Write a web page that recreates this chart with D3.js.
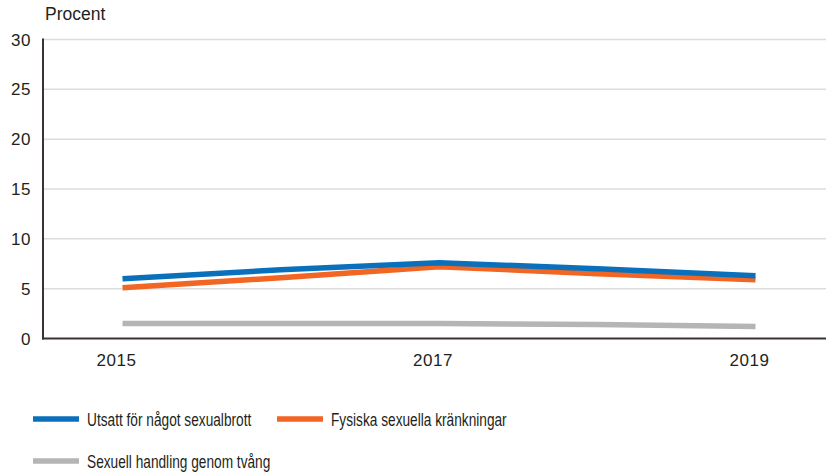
<!doctype html>
<html lang="sv">
  <head>
    <meta charset="utf-8">
    <title>Sexualbrott</title>
    <style>
        body { margin: 0; background: #fff; }
        text { font-family: "Liberation Sans", Arial, sans-serif; fill: #231f20; }
        .grid line { stroke: #dcdcdc; stroke-width: 1.5px; }
        .axis { stroke: #3a3330; stroke-width: 2px; }
        .serie { fill: none; stroke-width: 5.5px; stroke-linejoin: miter; }
        .legend text { font-size: 18.5px; }
    </style>
  </head>
  <body>
    <svg width="826" height="473"></svg>

    <script src="https://d3js.org/d3.v7.min.js"></script>
    <script>
        var years = [2015, 2016, 2017, 2018, 2019];
        var yearLabels = [2015, 2017, 2019];
        var yTicks = [0, 5, 10, 15, 20, 25, 30];

        var sexualbrott = [6.0, 6.9, 7.6, 7.0, 6.3];
        var krankningar = [5.1, 6.1, 7.2, 6.5, 5.9];
        var tvang = [1.5, 1.5, 1.5, 1.4, 1.2];

        var series = [
            {name: "Utsatt för något sexualbrott", values: sexualbrott, color: "#0a70bb"},
            {name: "Fysiska sexuella kränkningar", values: krankningar, color: "#f26522"},
            {name: "Sexuell handling genom tvång", values: tvang, color: "#b5b5b5"}
        ];

        var svg = d3.select("svg");
        var plotLeft = 43, plotRight = 826, plotTop = 39.5, plotBottom = 338.5;

        var x = d3.scaleLinear().domain([2015, 2019]).range([122.5, 755.5]);
        var y = d3.scaleLinear().domain([0, 30]).range([plotBottom, plotTop]);

        // gridlines
        svg.append("g").attr("class", "grid")
            .selectAll("line")
            .data(yTicks.filter(d => d > 0))
            .enter().append("line")
            .attr("x1", plotLeft).attr("x2", plotRight)
            .attr("y1", d => y(d)).attr("y2", d => y(d));

        // y tick labels
        svg.append("g")
            .selectAll("text")
            .data(yTicks)
            .enter().append("text")
            .attr("x", 31)
            .attr("y", d => y(d) + 6)
            .attr("text-anchor", "end")
            .style("font-size", "17px")
            .style("letter-spacing", "0.5px")
            .text(d => d);

        svg.append("text")
            .attr("x", 45).attr("y", 20)
            .style("font-size", "17.5px")
            .text("Procent");

        // x labels
        svg.append("g")
            .selectAll("text")
            .data(yearLabels)
            .enter().append("text")
            .attr("x", d => x(d) - 6)
            .attr("y", 366)
            .attr("text-anchor", "middle")
            .style("font-size", "17px")
            .style("letter-spacing", "0.5px")
            .text(d => d);

        var line = d3.line()
            .x((d, i) => x(years[i]))
            .y(d => y(d));

        svg.append("g")
            .selectAll("path")
            .data(series.slice().reverse())
            .enter().append("path")
            .attr("class", "serie")
            .attr("stroke", d => d.color)
            .attr("d", d => line(d.values));

        // axes
        svg.append("line").attr("class", "axis")
            .attr("x1", plotLeft).attr("x2", plotLeft)
            .attr("y1", plotTop - 1).attr("y2", plotBottom + 1);
        svg.append("line").attr("class", "axis")
            .attr("x1", plotLeft - 1).attr("x2", plotRight)
            .attr("y1", plotBottom).attr("y2", plotBottom);

        // legend (text is condensed in the original)
        var legendPos = [[33, 419], [277, 419], [33, 461]];
        var legend = svg.append("g").attr("class", "legend")
            .selectAll("g")
            .data(series)
            .enter().append("g")
            .attr("transform", (d, i) => "translate(" + legendPos[i][0] + "," + legendPos[i][1] + ")");
        legend.append("line")
            .attr("x1", 0).attr("x2", 46)
            .attr("stroke", d => d.color)
            .attr("stroke-width", 5.5);
        legend.append("text")
            .attr("transform", "translate(54,7) scale(0.74,1)")
            .text(d => d.name);
    </script>
  </body>
</html>
